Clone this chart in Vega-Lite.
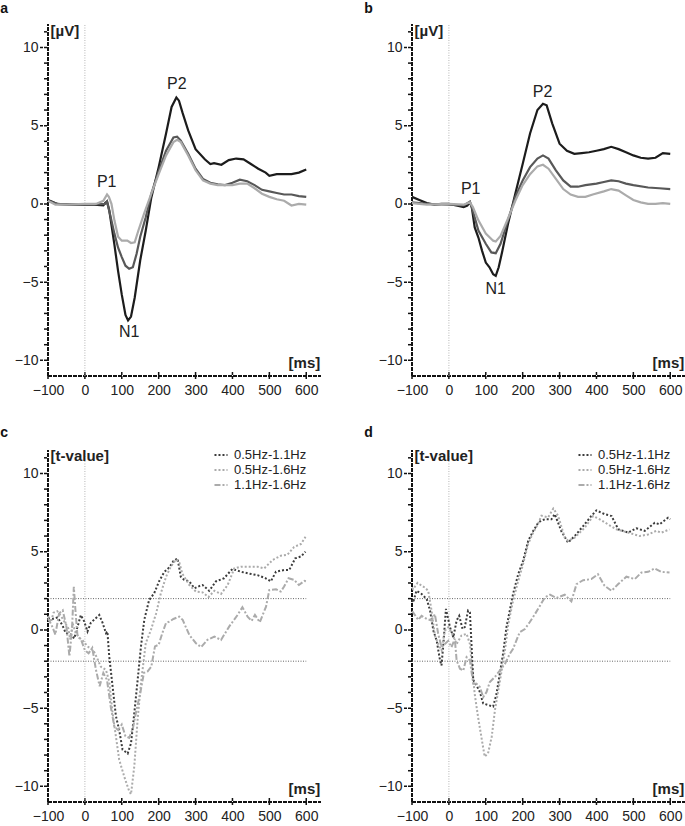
{
  "$schema": "https://vega.github.io/schema/vega-lite/v6.json",
  "padding": {"left": 0, "top": 2, "right": 0, "bottom": 0},
  "background": "white",
  "config": {
    "view": {"stroke": null},
    "font": "Liberation Sans",
    "axis": {"domain": false, "ticks": false, "tickSize": 0, "labelFont": "Liberation Sans", "labelFontSize": 14, "labelColor": "#222", "grid": false, "labelOverlap": false, "labelBound": false, "labelFlush": false},
    "title": {"fontSize": 14, "fontWeight": "bold", "anchor": "start", "frame": "bounds", "dx": -14, "offset": 7, "baseline": "alphabetic", "color": "#111", "font": "Liberation Sans"},
    "text": {"font": "Liberation Sans", "color": "#222"}
  },
  "columns": 2,
  "spacing": {"row": 29, "column": 42},
  "resolve": {"scale": {"color": "independent", "strokeDash": "independent"}, "legend": {"color": "independent", "strokeDash": "independent"}},
  "datasets": {
    "frame": [{"t": -100, "v": -11}],
    "yMajor": [{"t": -100, "v": -10}, {"t": -100, "v": -5}, {"t": -100, "v": 0}, {"t": -100, "v": 5}, {"t": -100, "v": 10}],
    "yMinor": [{"t": -100, "v": -9}, {"t": -100, "v": -8}, {"t": -100, "v": -7}, {"t": -100, "v": -6}, {"t": -100, "v": -4}, {"t": -100, "v": -3}, {"t": -100, "v": -2}, {"t": -100, "v": -1}, {"t": -100, "v": 1}, {"t": -100, "v": 2}, {"t": -100, "v": 3}, {"t": -100, "v": 4}, {"t": -100, "v": 6}, {"t": -100, "v": 7}, {"t": -100, "v": 8}, {"t": -100, "v": 9}, {"t": -100, "v": 11}],
    "xTicks": [{"t": -100, "v": -11}, {"t": 0, "v": -11}, {"t": 100, "v": -11}, {"t": 200, "v": -11}, {"t": 300, "v": -11}, {"t": 400, "v": -11}, {"t": 500, "v": -11}, {"t": 600, "v": -11}],
    "erpA": [
      {"t": -100, "v": 0.25, "s": "0.5Hz"}, {"t": -90, "v": 0.15, "s": "0.5Hz"}, {"t": -75, "v": 0.0, "s": "0.5Hz"}, {"t": -50, "v": -0.05, "s": "0.5Hz"}, {"t": -25, "v": -0.05, "s": "0.5Hz"}, {"t": 0, "v": -0.05, "s": "0.5Hz"}, {"t": 25, "v": -0.05, "s": "0.5Hz"}, {"t": 50, "v": -0.1, "s": "0.5Hz"}, {"t": 55, "v": 0.05, "s": "0.5Hz"}, {"t": 60, "v": 0.15, "s": "0.5Hz"}, {"t": 66, "v": -0.4, "s": "0.5Hz"}, {"t": 73, "v": -1.5, "s": "0.5Hz"}, {"t": 80, "v": -2.6, "s": "0.5Hz"}, {"t": 90, "v": -4.3, "s": "0.5Hz"}, {"t": 100, "v": -5.8, "s": "0.5Hz"}, {"t": 110, "v": -7.1, "s": "0.5Hz"}, {"t": 117, "v": -7.45, "s": "0.5Hz"}, {"t": 125, "v": -7.2, "s": "0.5Hz"}, {"t": 135, "v": -6.0, "s": "0.5Hz"}, {"t": 150, "v": -3.6, "s": "0.5Hz"}, {"t": 165, "v": -1.7, "s": "0.5Hz"}, {"t": 180, "v": 0.4, "s": "0.5Hz"}, {"t": 200, "v": 2.35, "s": "0.5Hz"}, {"t": 220, "v": 4.5, "s": "0.5Hz"}, {"t": 235, "v": 6.2, "s": "0.5Hz"}, {"t": 248, "v": 6.8, "s": "0.5Hz"}, {"t": 255, "v": 6.6, "s": "0.5Hz"}, {"t": 265, "v": 5.8, "s": "0.5Hz"}, {"t": 280, "v": 4.7, "s": "0.5Hz"}, {"t": 300, "v": 3.5, "s": "0.5Hz"}, {"t": 325, "v": 2.85, "s": "0.5Hz"}, {"t": 340, "v": 2.55, "s": "0.5Hz"}, {"t": 350, "v": 2.6, "s": "0.5Hz"}, {"t": 370, "v": 2.5, "s": "0.5Hz"}, {"t": 390, "v": 2.8, "s": "0.5Hz"}, {"t": 410, "v": 2.9, "s": "0.5Hz"}, {"t": 430, "v": 2.85, "s": "0.5Hz"}, {"t": 450, "v": 2.55, "s": "0.5Hz"}, {"t": 470, "v": 2.25, "s": "0.5Hz"}, {"t": 490, "v": 2.0, "s": "0.5Hz"}, {"t": 500, "v": 1.8, "s": "0.5Hz"}, {"t": 520, "v": 1.9, "s": "0.5Hz"}, {"t": 540, "v": 1.9, "s": "0.5Hz"}, {"t": 560, "v": 1.9, "s": "0.5Hz"}, {"t": 580, "v": 2.0, "s": "0.5Hz"}, {"t": 600, "v": 2.2, "s": "0.5Hz"},
      {"t": -100, "v": 0.2, "s": "1.1Hz"}, {"t": -75, "v": 0.0, "s": "1.1Hz"}, {"t": 0, "v": -0.05, "s": "1.1Hz"}, {"t": 55, "v": 0.0, "s": "1.1Hz"}, {"t": 60, "v": 0.15, "s": "1.1Hz"}, {"t": 70, "v": -0.85, "s": "1.1Hz"}, {"t": 80, "v": -1.9, "s": "1.1Hz"}, {"t": 90, "v": -2.8, "s": "1.1Hz"}, {"t": 100, "v": -3.4, "s": "1.1Hz"}, {"t": 110, "v": -3.95, "s": "1.1Hz"}, {"t": 120, "v": -4.15, "s": "1.1Hz"}, {"t": 130, "v": -4.05, "s": "1.1Hz"}, {"t": 140, "v": -3.2, "s": "1.1Hz"}, {"t": 150, "v": -2.1, "s": "1.1Hz"}, {"t": 165, "v": -0.85, "s": "1.1Hz"}, {"t": 180, "v": 0.65, "s": "1.1Hz"}, {"t": 200, "v": 2.1, "s": "1.1Hz"}, {"t": 220, "v": 3.4, "s": "1.1Hz"}, {"t": 240, "v": 4.25, "s": "1.1Hz"}, {"t": 250, "v": 4.3, "s": "1.1Hz"}, {"t": 260, "v": 4.05, "s": "1.1Hz"}, {"t": 280, "v": 3.2, "s": "1.1Hz"}, {"t": 300, "v": 2.25, "s": "1.1Hz"}, {"t": 320, "v": 1.6, "s": "1.1Hz"}, {"t": 340, "v": 1.35, "s": "1.1Hz"}, {"t": 360, "v": 1.25, "s": "1.1Hz"}, {"t": 380, "v": 1.2, "s": "1.1Hz"}, {"t": 400, "v": 1.35, "s": "1.1Hz"}, {"t": 420, "v": 1.55, "s": "1.1Hz"}, {"t": 440, "v": 1.45, "s": "1.1Hz"}, {"t": 460, "v": 1.2, "s": "1.1Hz"}, {"t": 480, "v": 0.9, "s": "1.1Hz"}, {"t": 500, "v": 0.8, "s": "1.1Hz"}, {"t": 520, "v": 0.7, "s": "1.1Hz"}, {"t": 540, "v": 0.6, "s": "1.1Hz"}, {"t": 560, "v": 0.6, "s": "1.1Hz"}, {"t": 580, "v": 0.5, "s": "1.1Hz"}, {"t": 600, "v": 0.45, "s": "1.1Hz"},
      {"t": -100, "v": 0.2, "s": "1.6Hz"}, {"t": -80, "v": -0.05, "s": "1.6Hz"}, {"t": -50, "v": -0.05, "s": "1.6Hz"}, {"t": 0, "v": 0.0, "s": "1.6Hz"}, {"t": 30, "v": 0.0, "s": "1.6Hz"}, {"t": 50, "v": 0.2, "s": "1.6Hz"}, {"t": 60, "v": 0.6, "s": "1.6Hz"}, {"t": 65, "v": 0.45, "s": "1.6Hz"}, {"t": 72, "v": 0.0, "s": "1.6Hz"}, {"t": 80, "v": -1.05, "s": "1.6Hz"}, {"t": 90, "v": -2.1, "s": "1.6Hz"}, {"t": 100, "v": -2.35, "s": "1.6Hz"}, {"t": 115, "v": -2.35, "s": "1.6Hz"}, {"t": 125, "v": -2.5, "s": "1.6Hz"}, {"t": 135, "v": -2.45, "s": "1.6Hz"}, {"t": 145, "v": -1.7, "s": "1.6Hz"}, {"t": 160, "v": -0.65, "s": "1.6Hz"}, {"t": 180, "v": 0.65, "s": "1.6Hz"}, {"t": 200, "v": 1.9, "s": "1.6Hz"}, {"t": 220, "v": 3.1, "s": "1.6Hz"}, {"t": 240, "v": 3.95, "s": "1.6Hz"}, {"t": 250, "v": 4.1, "s": "1.6Hz"}, {"t": 260, "v": 3.95, "s": "1.6Hz"}, {"t": 280, "v": 3.1, "s": "1.6Hz"}, {"t": 300, "v": 2.15, "s": "1.6Hz"}, {"t": 320, "v": 1.5, "s": "1.6Hz"}, {"t": 340, "v": 1.3, "s": "1.6Hz"}, {"t": 360, "v": 1.2, "s": "1.6Hz"}, {"t": 380, "v": 1.2, "s": "1.6Hz"}, {"t": 400, "v": 1.2, "s": "1.6Hz"}, {"t": 420, "v": 1.3, "s": "1.6Hz"}, {"t": 440, "v": 1.3, "s": "1.6Hz"}, {"t": 460, "v": 1.0, "s": "1.6Hz"}, {"t": 480, "v": 0.65, "s": "1.6Hz"}, {"t": 500, "v": 0.45, "s": "1.6Hz"}, {"t": 520, "v": 0.3, "s": "1.6Hz"}, {"t": 540, "v": 0.2, "s": "1.6Hz"}, {"t": 560, "v": -0.1, "s": "1.6Hz"}, {"t": 580, "v": 0.0, "s": "1.6Hz"}, {"t": 600, "v": -0.05, "s": "1.6Hz"}
    ],
    "erpB": [
      {"t": -100, "v": 0.45, "s": "0.5Hz"}, {"t": -80, "v": 0.25, "s": "0.5Hz"}, {"t": -60, "v": 0.05, "s": "0.5Hz"}, {"t": -40, "v": -0.05, "s": "0.5Hz"}, {"t": -20, "v": 0.0, "s": "0.5Hz"}, {"t": 0, "v": 0.0, "s": "0.5Hz"}, {"t": 20, "v": -0.1, "s": "0.5Hz"}, {"t": 40, "v": -0.2, "s": "0.5Hz"}, {"t": 50, "v": -0.1, "s": "0.5Hz"}, {"t": 57, "v": 0.1, "s": "0.5Hz"}, {"t": 62, "v": -0.2, "s": "0.5Hz"}, {"t": 70, "v": -1.5, "s": "0.5Hz"}, {"t": 80, "v": -2.15, "s": "0.5Hz"}, {"t": 90, "v": -3.0, "s": "0.5Hz"}, {"t": 100, "v": -3.75, "s": "0.5Hz"}, {"t": 110, "v": -4.05, "s": "0.5Hz"}, {"t": 120, "v": -4.5, "s": "0.5Hz"}, {"t": 127, "v": -4.6, "s": "0.5Hz"}, {"t": 135, "v": -4.05, "s": "0.5Hz"}, {"t": 145, "v": -3.0, "s": "0.5Hz"}, {"t": 160, "v": -1.3, "s": "0.5Hz"}, {"t": 180, "v": 0.65, "s": "0.5Hz"}, {"t": 200, "v": 2.55, "s": "0.5Hz"}, {"t": 220, "v": 4.5, "s": "0.5Hz"}, {"t": 240, "v": 6.0, "s": "0.5Hz"}, {"t": 255, "v": 6.4, "s": "0.5Hz"}, {"t": 265, "v": 6.3, "s": "0.5Hz"}, {"t": 280, "v": 5.15, "s": "0.5Hz"}, {"t": 300, "v": 3.85, "s": "0.5Hz"}, {"t": 320, "v": 3.4, "s": "0.5Hz"}, {"t": 340, "v": 3.2, "s": "0.5Hz"}, {"t": 360, "v": 3.25, "s": "0.5Hz"}, {"t": 380, "v": 3.3, "s": "0.5Hz"}, {"t": 400, "v": 3.4, "s": "0.5Hz"}, {"t": 420, "v": 3.5, "s": "0.5Hz"}, {"t": 440, "v": 3.65, "s": "0.5Hz"}, {"t": 460, "v": 3.5, "s": "0.5Hz"}, {"t": 480, "v": 3.3, "s": "0.5Hz"}, {"t": 500, "v": 3.1, "s": "0.5Hz"}, {"t": 520, "v": 2.95, "s": "0.5Hz"}, {"t": 540, "v": 2.9, "s": "0.5Hz"}, {"t": 560, "v": 2.95, "s": "0.5Hz"}, {"t": 580, "v": 3.25, "s": "0.5Hz"}, {"t": 600, "v": 3.2, "s": "0.5Hz"},
      {"t": -100, "v": 0.1, "s": "1.1Hz"}, {"t": -60, "v": 0.0, "s": "1.1Hz"}, {"t": 0, "v": -0.05, "s": "1.1Hz"}, {"t": 40, "v": -0.1, "s": "1.1Hz"}, {"t": 57, "v": 0.15, "s": "1.1Hz"}, {"t": 65, "v": -0.45, "s": "1.1Hz"}, {"t": 80, "v": -1.7, "s": "1.1Hz"}, {"t": 100, "v": -2.55, "s": "1.1Hz"}, {"t": 115, "v": -3.1, "s": "1.1Hz"}, {"t": 127, "v": -3.15, "s": "1.1Hz"}, {"t": 140, "v": -2.55, "s": "1.1Hz"}, {"t": 160, "v": -1.05, "s": "1.1Hz"}, {"t": 180, "v": 0.45, "s": "1.1Hz"}, {"t": 200, "v": 1.5, "s": "1.1Hz"}, {"t": 220, "v": 2.35, "s": "1.1Hz"}, {"t": 240, "v": 2.9, "s": "1.1Hz"}, {"t": 255, "v": 3.1, "s": "1.1Hz"}, {"t": 270, "v": 2.9, "s": "1.1Hz"}, {"t": 290, "v": 2.15, "s": "1.1Hz"}, {"t": 310, "v": 1.5, "s": "1.1Hz"}, {"t": 330, "v": 1.1, "s": "1.1Hz"}, {"t": 350, "v": 1.1, "s": "1.1Hz"}, {"t": 370, "v": 1.2, "s": "1.1Hz"}, {"t": 400, "v": 1.3, "s": "1.1Hz"}, {"t": 420, "v": 1.4, "s": "1.1Hz"}, {"t": 440, "v": 1.5, "s": "1.1Hz"}, {"t": 460, "v": 1.45, "s": "1.1Hz"}, {"t": 480, "v": 1.3, "s": "1.1Hz"}, {"t": 500, "v": 1.2, "s": "1.1Hz"}, {"t": 540, "v": 1.05, "s": "1.1Hz"}, {"t": 570, "v": 1.0, "s": "1.1Hz"}, {"t": 600, "v": 0.95, "s": "1.1Hz"},
      {"t": -100, "v": 0.05, "s": "1.6Hz"}, {"t": -60, "v": -0.05, "s": "1.6Hz"}, {"t": 0, "v": 0.0, "s": "1.6Hz"}, {"t": 40, "v": -0.05, "s": "1.6Hz"}, {"t": 57, "v": 0.1, "s": "1.6Hz"}, {"t": 65, "v": -0.2, "s": "1.6Hz"}, {"t": 80, "v": -1.05, "s": "1.6Hz"}, {"t": 100, "v": -1.9, "s": "1.6Hz"}, {"t": 120, "v": -2.35, "s": "1.6Hz"}, {"t": 127, "v": -2.4, "s": "1.6Hz"}, {"t": 140, "v": -2.05, "s": "1.6Hz"}, {"t": 160, "v": -0.95, "s": "1.6Hz"}, {"t": 180, "v": 0.2, "s": "1.6Hz"}, {"t": 200, "v": 1.2, "s": "1.6Hz"}, {"t": 220, "v": 1.9, "s": "1.6Hz"}, {"t": 240, "v": 2.4, "s": "1.6Hz"}, {"t": 255, "v": 2.5, "s": "1.6Hz"}, {"t": 270, "v": 2.25, "s": "1.6Hz"}, {"t": 290, "v": 1.6, "s": "1.6Hz"}, {"t": 310, "v": 0.95, "s": "1.6Hz"}, {"t": 330, "v": 0.6, "s": "1.6Hz"}, {"t": 350, "v": 0.45, "s": "1.6Hz"}, {"t": 370, "v": 0.45, "s": "1.6Hz"}, {"t": 390, "v": 0.6, "s": "1.6Hz"}, {"t": 420, "v": 0.8, "s": "1.6Hz"}, {"t": 440, "v": 0.95, "s": "1.6Hz"}, {"t": 460, "v": 0.85, "s": "1.6Hz"}, {"t": 480, "v": 0.55, "s": "1.6Hz"}, {"t": 500, "v": 0.25, "s": "1.6Hz"}, {"t": 520, "v": 0.1, "s": "1.6Hz"}, {"t": 540, "v": 0.0, "s": "1.6Hz"}, {"t": 560, "v": 0.0, "s": "1.6Hz"}, {"t": 580, "v": 0.05, "s": "1.6Hz"}, {"t": 600, "v": 0.0, "s": "1.6Hz"}
    ],
    "tC": [
      {"t": -100, "v": 0.75, "s": "0.5Hz-1.1Hz"}, {"t": -88, "v": 0.7, "s": "0.5Hz-1.1Hz"}, {"t": -74, "v": 0.8, "s": "0.5Hz-1.1Hz"}, {"t": -61, "v": 0.3, "s": "0.5Hz-1.1Hz"}, {"t": -52, "v": -0.2, "s": "0.5Hz-1.1Hz"}, {"t": -38, "v": -0.3, "s": "0.5Hz-1.1Hz"}, {"t": -29, "v": -0.55, "s": "0.5Hz-1.1Hz"}, {"t": -20, "v": 0.2, "s": "0.5Hz-1.1Hz"}, {"t": -11, "v": 0.95, "s": "0.5Hz-1.1Hz"}, {"t": -2, "v": 0.55, "s": "0.5Hz-1.1Hz"}, {"t": 7, "v": -0.1, "s": "0.5Hz-1.1Hz"}, {"t": 16, "v": 0.45, "s": "0.5Hz-1.1Hz"}, {"t": 25, "v": 0.65, "s": "0.5Hz-1.1Hz"}, {"t": 39, "v": 0.95, "s": "0.5Hz-1.1Hz"}, {"t": 48, "v": 0.45, "s": "0.5Hz-1.1Hz"}, {"t": 57, "v": -0.2, "s": "0.5Hz-1.1Hz"}, {"t": 61, "v": -0.1, "s": "0.5Hz-1.1Hz"}, {"t": 66, "v": -1.7, "s": "0.5Hz-1.1Hz"}, {"t": 75, "v": -3.6, "s": "0.5Hz-1.1Hz"}, {"t": 84, "v": -5.5, "s": "0.5Hz-1.1Hz"}, {"t": 93, "v": -6.4, "s": "0.5Hz-1.1Hz"}, {"t": 102, "v": -7.65, "s": "0.5Hz-1.1Hz"}, {"t": 116, "v": -7.9, "s": "0.5Hz-1.1Hz"}, {"t": 125, "v": -7.25, "s": "0.5Hz-1.1Hz"}, {"t": 134, "v": -5.3, "s": "0.5Hz-1.1Hz"}, {"t": 143, "v": -3.2, "s": "0.5Hz-1.1Hz"}, {"t": 152, "v": -1.05, "s": "0.5Hz-1.1Hz"}, {"t": 161, "v": 0.65, "s": "0.5Hz-1.1Hz"}, {"t": 174, "v": 1.9, "s": "0.5Hz-1.1Hz"}, {"t": 188, "v": 2.35, "s": "0.5Hz-1.1Hz"}, {"t": 201, "v": 3.1, "s": "0.5Hz-1.1Hz"}, {"t": 215, "v": 3.7, "s": "0.5Hz-1.1Hz"}, {"t": 229, "v": 4.0, "s": "0.5Hz-1.1Hz"}, {"t": 240, "v": 4.4, "s": "0.5Hz-1.1Hz"}, {"t": 251, "v": 4.57, "s": "0.5Hz-1.1Hz"}, {"t": 260, "v": 3.4, "s": "0.5Hz-1.1Hz"}, {"t": 269, "v": 3.2, "s": "0.5Hz-1.1Hz"}, {"t": 283, "v": 3.1, "s": "0.5Hz-1.1Hz"}, {"t": 297, "v": 2.66, "s": "0.5Hz-1.1Hz"}, {"t": 310, "v": 2.8, "s": "0.5Hz-1.1Hz"}, {"t": 319, "v": 2.87, "s": "0.5Hz-1.1Hz"}, {"t": 337, "v": 2.5, "s": "0.5Hz-1.1Hz"}, {"t": 355, "v": 3.1, "s": "0.5Hz-1.1Hz"}, {"t": 377, "v": 3.3, "s": "0.5Hz-1.1Hz"}, {"t": 400, "v": 3.9, "s": "0.5Hz-1.1Hz"}, {"t": 423, "v": 3.72, "s": "0.5Hz-1.1Hz"}, {"t": 445, "v": 3.6, "s": "0.5Hz-1.1Hz"}, {"t": 468, "v": 3.5, "s": "0.5Hz-1.1Hz"}, {"t": 490, "v": 3.3, "s": "0.5Hz-1.1Hz"}, {"t": 504, "v": 3.1, "s": "0.5Hz-1.1Hz"}, {"t": 518, "v": 3.72, "s": "0.5Hz-1.1Hz"}, {"t": 540, "v": 3.83, "s": "0.5Hz-1.1Hz"}, {"t": 554, "v": 3.83, "s": "0.5Hz-1.1Hz"}, {"t": 570, "v": 4.57, "s": "0.5Hz-1.1Hz"}, {"t": 586, "v": 4.7, "s": "0.5Hz-1.1Hz"}, {"t": 598, "v": 5.0, "s": "0.5Hz-1.1Hz"},
      {"t": -100, "v": 0.9, "s": "0.5Hz-1.6Hz"}, {"t": -92, "v": 0.5, "s": "0.5Hz-1.6Hz"}, {"t": -85, "v": 1.1, "s": "0.5Hz-1.6Hz"}, {"t": -75, "v": 1.2, "s": "0.5Hz-1.6Hz"}, {"t": -65, "v": 0.9, "s": "0.5Hz-1.6Hz"}, {"t": -55, "v": 0.5, "s": "0.5Hz-1.6Hz"}, {"t": -45, "v": 0.1, "s": "0.5Hz-1.6Hz"}, {"t": -40, "v": -0.6, "s": "0.5Hz-1.6Hz"}, {"t": -33, "v": 0.4, "s": "0.5Hz-1.6Hz"}, {"t": -25, "v": -0.2, "s": "0.5Hz-1.6Hz"}, {"t": -15, "v": -0.5, "s": "0.5Hz-1.6Hz"}, {"t": -5, "v": -0.7, "s": "0.5Hz-1.6Hz"}, {"t": 7, "v": -1.05, "s": "0.5Hz-1.6Hz"}, {"t": 16, "v": -1.2, "s": "0.5Hz-1.6Hz"}, {"t": 25, "v": -1.4, "s": "0.5Hz-1.6Hz"}, {"t": 35, "v": -1.9, "s": "0.5Hz-1.6Hz"}, {"t": 43, "v": -2.35, "s": "0.5Hz-1.6Hz"}, {"t": 57, "v": -2.55, "s": "0.5Hz-1.6Hz"}, {"t": 66, "v": -3.3, "s": "0.5Hz-1.6Hz"}, {"t": 75, "v": -5.3, "s": "0.5Hz-1.6Hz"}, {"t": 84, "v": -6.8, "s": "0.5Hz-1.6Hz"}, {"t": 93, "v": -8.3, "s": "0.5Hz-1.6Hz"}, {"t": 107, "v": -9.4, "s": "0.5Hz-1.6Hz"}, {"t": 120, "v": -10.3, "s": "0.5Hz-1.6Hz"}, {"t": 125, "v": -10.5, "s": "0.5Hz-1.6Hz"}, {"t": 134, "v": -8.7, "s": "0.5Hz-1.6Hz"}, {"t": 143, "v": -5.7, "s": "0.5Hz-1.6Hz"}, {"t": 152, "v": -3.4, "s": "0.5Hz-1.6Hz"}, {"t": 165, "v": -0.85, "s": "0.5Hz-1.6Hz"}, {"t": 179, "v": 0.0, "s": "0.5Hz-1.6Hz"}, {"t": 193, "v": 1.05, "s": "0.5Hz-1.6Hz"}, {"t": 206, "v": 2.35, "s": "0.5Hz-1.6Hz"}, {"t": 220, "v": 3.4, "s": "0.5Hz-1.6Hz"}, {"t": 233, "v": 4.05, "s": "0.5Hz-1.6Hz"}, {"t": 247, "v": 4.5, "s": "0.5Hz-1.6Hz"}, {"t": 256, "v": 4.3, "s": "0.5Hz-1.6Hz"}, {"t": 264, "v": 3.6, "s": "0.5Hz-1.6Hz"}, {"t": 283, "v": 2.87, "s": "0.5Hz-1.6Hz"}, {"t": 301, "v": 2.45, "s": "0.5Hz-1.6Hz"}, {"t": 319, "v": 2.4, "s": "0.5Hz-1.6Hz"}, {"t": 335, "v": 2.1, "s": "0.5Hz-1.6Hz"}, {"t": 351, "v": 2.5, "s": "0.5Hz-1.6Hz"}, {"t": 369, "v": 2.3, "s": "0.5Hz-1.6Hz"}, {"t": 387, "v": 2.87, "s": "0.5Hz-1.6Hz"}, {"t": 405, "v": 3.93, "s": "0.5Hz-1.6Hz"}, {"t": 423, "v": 4.04, "s": "0.5Hz-1.6Hz"}, {"t": 445, "v": 4.04, "s": "0.5Hz-1.6Hz"}, {"t": 468, "v": 4.04, "s": "0.5Hz-1.6Hz"}, {"t": 486, "v": 3.93, "s": "0.5Hz-1.6Hz"}, {"t": 509, "v": 4.47, "s": "0.5Hz-1.6Hz"}, {"t": 531, "v": 4.74, "s": "0.5Hz-1.6Hz"}, {"t": 549, "v": 4.8, "s": "0.5Hz-1.6Hz"}, {"t": 567, "v": 5.3, "s": "0.5Hz-1.6Hz"}, {"t": 586, "v": 5.5, "s": "0.5Hz-1.6Hz"}, {"t": 598, "v": 5.95, "s": "0.5Hz-1.6Hz"},
      {"t": -100, "v": 0.75, "s": "1.1Hz-1.6Hz"}, {"t": -90, "v": 0.3, "s": "1.1Hz-1.6Hz"}, {"t": -80, "v": -0.3, "s": "1.1Hz-1.6Hz"}, {"t": -70, "v": 1.05, "s": "1.1Hz-1.6Hz"}, {"t": -60, "v": 1.25, "s": "1.1Hz-1.6Hz"}, {"t": -50, "v": 0.2, "s": "1.1Hz-1.6Hz"}, {"t": -42, "v": -1.7, "s": "1.1Hz-1.6Hz"}, {"t": -35, "v": 0.0, "s": "1.1Hz-1.6Hz"}, {"t": -30, "v": 2.75, "s": "1.1Hz-1.6Hz"}, {"t": -25, "v": 1.05, "s": "1.1Hz-1.6Hz"}, {"t": -20, "v": -0.4, "s": "1.1Hz-1.6Hz"}, {"t": -10, "v": -0.65, "s": "1.1Hz-1.6Hz"}, {"t": 0, "v": -1.3, "s": "1.1Hz-1.6Hz"}, {"t": 10, "v": -1.5, "s": "1.1Hz-1.6Hz"}, {"t": 20, "v": -1.15, "s": "1.1Hz-1.6Hz"}, {"t": 30, "v": -2.55, "s": "1.1Hz-1.6Hz"}, {"t": 40, "v": -3.6, "s": "1.1Hz-1.6Hz"}, {"t": 50, "v": -2.75, "s": "1.1Hz-1.6Hz"}, {"t": 60, "v": -3.2, "s": "1.1Hz-1.6Hz"}, {"t": 70, "v": -4.9, "s": "1.1Hz-1.6Hz"}, {"t": 80, "v": -6.2, "s": "1.1Hz-1.6Hz"}, {"t": 90, "v": -6.4, "s": "1.1Hz-1.6Hz"}, {"t": 100, "v": -6.05, "s": "1.1Hz-1.6Hz"}, {"t": 110, "v": -6.8, "s": "1.1Hz-1.6Hz"}, {"t": 120, "v": -6.9, "s": "1.1Hz-1.6Hz"}, {"t": 130, "v": -6.3, "s": "1.1Hz-1.6Hz"}, {"t": 140, "v": -5.1, "s": "1.1Hz-1.6Hz"}, {"t": 150, "v": -4.05, "s": "1.1Hz-1.6Hz"}, {"t": 160, "v": -2.75, "s": "1.1Hz-1.6Hz"}, {"t": 170, "v": -2.65, "s": "1.1Hz-1.6Hz"}, {"t": 180, "v": -2.35, "s": "1.1Hz-1.6Hz"}, {"t": 190, "v": -1.05, "s": "1.1Hz-1.6Hz"}, {"t": 200, "v": -0.95, "s": "1.1Hz-1.6Hz"}, {"t": 210, "v": -0.2, "s": "1.1Hz-1.6Hz"}, {"t": 220, "v": 0.45, "s": "1.1Hz-1.6Hz"}, {"t": 229, "v": 0.53, "s": "1.1Hz-1.6Hz"}, {"t": 240, "v": 0.7, "s": "1.1Hz-1.6Hz"}, {"t": 256, "v": 0.85, "s": "1.1Hz-1.6Hz"}, {"t": 265, "v": 0.64, "s": "1.1Hz-1.6Hz"}, {"t": 283, "v": -0.32, "s": "1.1Hz-1.6Hz"}, {"t": 301, "v": -0.85, "s": "1.1Hz-1.6Hz"}, {"t": 315, "v": -1.1, "s": "1.1Hz-1.6Hz"}, {"t": 332, "v": -0.64, "s": "1.1Hz-1.6Hz"}, {"t": 351, "v": -0.43, "s": "1.1Hz-1.6Hz"}, {"t": 369, "v": -0.64, "s": "1.1Hz-1.6Hz"}, {"t": 391, "v": 0.21, "s": "1.1Hz-1.6Hz"}, {"t": 414, "v": 0.96, "s": "1.1Hz-1.6Hz"}, {"t": 427, "v": 1.45, "s": "1.1Hz-1.6Hz"}, {"t": 441, "v": 0.85, "s": "1.1Hz-1.6Hz"}, {"t": 452, "v": 0.57, "s": "1.1Hz-1.6Hz"}, {"t": 461, "v": 0.96, "s": "1.1Hz-1.6Hz"}, {"t": 474, "v": 0.49, "s": "1.1Hz-1.6Hz"}, {"t": 491, "v": 1.49, "s": "1.1Hz-1.6Hz"}, {"t": 500, "v": 2.55, "s": "1.1Hz-1.6Hz"}, {"t": 518, "v": 2.6, "s": "1.1Hz-1.6Hz"}, {"t": 531, "v": 2.45, "s": "1.1Hz-1.6Hz"}, {"t": 540, "v": 2.77, "s": "1.1Hz-1.6Hz"}, {"t": 552, "v": 3.3, "s": "1.1Hz-1.6Hz"}, {"t": 567, "v": 3.2, "s": "1.1Hz-1.6Hz"}, {"t": 580, "v": 2.87, "s": "1.1Hz-1.6Hz"}, {"t": 595, "v": 3.13, "s": "1.1Hz-1.6Hz"}, {"t": 600, "v": 3.1, "s": "1.1Hz-1.6Hz"}
    ],
    "tD": [
      {"t": -100, "v": 1.9, "s": "0.5Hz-1.1Hz"}, {"t": -97, "v": 1.75, "s": "0.5Hz-1.1Hz"}, {"t": -88, "v": 2.5, "s": "0.5Hz-1.1Hz"}, {"t": -74, "v": 2.3, "s": "0.5Hz-1.1Hz"}, {"t": -60, "v": 1.97, "s": "0.5Hz-1.1Hz"}, {"t": -51, "v": 1.23, "s": "0.5Hz-1.1Hz"}, {"t": -42, "v": -0.05, "s": "0.5Hz-1.1Hz"}, {"t": -33, "v": -0.7, "s": "0.5Hz-1.1Hz"}, {"t": -24, "v": -1.95, "s": "0.5Hz-1.1Hz"}, {"t": -20, "v": -2.27, "s": "0.5Hz-1.1Hz"}, {"t": -15, "v": -0.9, "s": "0.5Hz-1.1Hz"}, {"t": -8, "v": 1.34, "s": "0.5Hz-1.1Hz"}, {"t": 3, "v": 0.17, "s": "0.5Hz-1.1Hz"}, {"t": 12, "v": -0.47, "s": "0.5Hz-1.1Hz"}, {"t": 21, "v": 0.6, "s": "0.5Hz-1.1Hz"}, {"t": 28, "v": 0.9, "s": "0.5Hz-1.1Hz"}, {"t": 37, "v": 0.06, "s": "0.5Hz-1.1Hz"}, {"t": 43, "v": 0.17, "s": "0.5Hz-1.1Hz"}, {"t": 52, "v": 1.23, "s": "0.5Hz-1.1Hz"}, {"t": 57, "v": 1.12, "s": "0.5Hz-1.1Hz"}, {"t": 66, "v": -3.2, "s": "0.5Hz-1.1Hz"}, {"t": 75, "v": -3.55, "s": "0.5Hz-1.1Hz"}, {"t": 84, "v": -3.97, "s": "0.5Hz-1.1Hz"}, {"t": 93, "v": -4.7, "s": "0.5Hz-1.1Hz"}, {"t": 106, "v": -4.8, "s": "0.5Hz-1.1Hz"}, {"t": 120, "v": -4.9, "s": "0.5Hz-1.1Hz"}, {"t": 129, "v": -4.1, "s": "0.5Hz-1.1Hz"}, {"t": 138, "v": -2.8, "s": "0.5Hz-1.1Hz"}, {"t": 147, "v": -1.5, "s": "0.5Hz-1.1Hz"}, {"t": 156, "v": 0.17, "s": "0.5Hz-1.1Hz"}, {"t": 165, "v": 1.23, "s": "0.5Hz-1.1Hz"}, {"t": 174, "v": 2.3, "s": "0.5Hz-1.1Hz"}, {"t": 188, "v": 3.57, "s": "0.5Hz-1.1Hz"}, {"t": 201, "v": 4.4, "s": "0.5Hz-1.1Hz"}, {"t": 215, "v": 5.7, "s": "0.5Hz-1.1Hz"}, {"t": 228, "v": 6.3, "s": "0.5Hz-1.1Hz"}, {"t": 242, "v": 6.85, "s": "0.5Hz-1.1Hz"}, {"t": 251, "v": 7.0, "s": "0.5Hz-1.1Hz"}, {"t": 260, "v": 7.07, "s": "0.5Hz-1.1Hz"}, {"t": 278, "v": 7.07, "s": "0.5Hz-1.1Hz"}, {"t": 287, "v": 7.4, "s": "0.5Hz-1.1Hz"}, {"t": 305, "v": 6.3, "s": "0.5Hz-1.1Hz"}, {"t": 323, "v": 5.58, "s": "0.5Hz-1.1Hz"}, {"t": 341, "v": 6.0, "s": "0.5Hz-1.1Hz"}, {"t": 364, "v": 6.64, "s": "0.5Hz-1.1Hz"}, {"t": 386, "v": 7.28, "s": "0.5Hz-1.1Hz"}, {"t": 400, "v": 7.64, "s": "0.5Hz-1.1Hz"}, {"t": 422, "v": 7.4, "s": "0.5Hz-1.1Hz"}, {"t": 441, "v": 7.28, "s": "0.5Hz-1.1Hz"}, {"t": 459, "v": 6.43, "s": "0.5Hz-1.1Hz"}, {"t": 486, "v": 6.22, "s": "0.5Hz-1.1Hz"}, {"t": 508, "v": 6.5, "s": "0.5Hz-1.1Hz"}, {"t": 531, "v": 6.33, "s": "0.5Hz-1.1Hz"}, {"t": 558, "v": 6.85, "s": "0.5Hz-1.1Hz"}, {"t": 571, "v": 6.75, "s": "0.5Hz-1.1Hz"}, {"t": 594, "v": 7.17, "s": "0.5Hz-1.1Hz"}, {"t": 600, "v": 7.07, "s": "0.5Hz-1.1Hz"},
      {"t": -100, "v": 2.7, "s": "0.5Hz-1.6Hz"}, {"t": -97, "v": 2.6, "s": "0.5Hz-1.6Hz"}, {"t": -85, "v": 3.0, "s": "0.5Hz-1.6Hz"}, {"t": -65, "v": 2.7, "s": "0.5Hz-1.6Hz"}, {"t": -56, "v": 2.5, "s": "0.5Hz-1.6Hz"}, {"t": -47, "v": 1.23, "s": "0.5Hz-1.6Hz"}, {"t": -38, "v": -0.36, "s": "0.5Hz-1.6Hz"}, {"t": -29, "v": -0.9, "s": "0.5Hz-1.6Hz"}, {"t": -20, "v": -1.3, "s": "0.5Hz-1.6Hz"}, {"t": -11, "v": -0.05, "s": "0.5Hz-1.6Hz"}, {"t": -2, "v": 0.17, "s": "0.5Hz-1.6Hz"}, {"t": 7, "v": -0.15, "s": "0.5Hz-1.6Hz"}, {"t": 21, "v": -0.9, "s": "0.5Hz-1.6Hz"}, {"t": 34, "v": -0.36, "s": "0.5Hz-1.6Hz"}, {"t": 48, "v": -0.25, "s": "0.5Hz-1.6Hz"}, {"t": 57, "v": -0.9, "s": "0.5Hz-1.6Hz"}, {"t": 61, "v": -1.95, "s": "0.5Hz-1.6Hz"}, {"t": 70, "v": -4.1, "s": "0.5Hz-1.6Hz"}, {"t": 79, "v": -5.56, "s": "0.5Hz-1.6Hz"}, {"t": 88, "v": -6.84, "s": "0.5Hz-1.6Hz"}, {"t": 97, "v": -8.1, "s": "0.5Hz-1.6Hz"}, {"t": 106, "v": -7.9, "s": "0.5Hz-1.6Hz"}, {"t": 116, "v": -6.84, "s": "0.5Hz-1.6Hz"}, {"t": 125, "v": -5.1, "s": "0.5Hz-1.6Hz"}, {"t": 134, "v": -3.86, "s": "0.5Hz-1.6Hz"}, {"t": 143, "v": -2.6, "s": "0.5Hz-1.6Hz"}, {"t": 152, "v": -1.3, "s": "0.5Hz-1.6Hz"}, {"t": 161, "v": 0.38, "s": "0.5Hz-1.6Hz"}, {"t": 174, "v": 1.87, "s": "0.5Hz-1.6Hz"}, {"t": 188, "v": 3.14, "s": "0.5Hz-1.6Hz"}, {"t": 201, "v": 4.2, "s": "0.5Hz-1.6Hz"}, {"t": 215, "v": 5.5, "s": "0.5Hz-1.6Hz"}, {"t": 228, "v": 6.2, "s": "0.5Hz-1.6Hz"}, {"t": 242, "v": 6.8, "s": "0.5Hz-1.6Hz"}, {"t": 251, "v": 7.3, "s": "0.5Hz-1.6Hz"}, {"t": 269, "v": 7.2, "s": "0.5Hz-1.6Hz"}, {"t": 283, "v": 7.76, "s": "0.5Hz-1.6Hz"}, {"t": 296, "v": 7.3, "s": "0.5Hz-1.6Hz"}, {"t": 314, "v": 5.9, "s": "0.5Hz-1.6Hz"}, {"t": 323, "v": 5.7, "s": "0.5Hz-1.6Hz"}, {"t": 341, "v": 5.9, "s": "0.5Hz-1.6Hz"}, {"t": 368, "v": 6.53, "s": "0.5Hz-1.6Hz"}, {"t": 391, "v": 7.28, "s": "0.5Hz-1.6Hz"}, {"t": 409, "v": 7.07, "s": "0.5Hz-1.6Hz"}, {"t": 431, "v": 6.75, "s": "0.5Hz-1.6Hz"}, {"t": 454, "v": 6.43, "s": "0.5Hz-1.6Hz"}, {"t": 486, "v": 6.22, "s": "0.5Hz-1.6Hz"}, {"t": 517, "v": 6.0, "s": "0.5Hz-1.6Hz"}, {"t": 540, "v": 6.1, "s": "0.5Hz-1.6Hz"}, {"t": 562, "v": 6.33, "s": "0.5Hz-1.6Hz"}, {"t": 576, "v": 6.22, "s": "0.5Hz-1.6Hz"}, {"t": 598, "v": 6.43, "s": "0.5Hz-1.6Hz"},
      {"t": -100, "v": 1.2, "s": "1.1Hz-1.6Hz"}, {"t": -97, "v": 1.12, "s": "1.1Hz-1.6Hz"}, {"t": -83, "v": 0.64, "s": "1.1Hz-1.6Hz"}, {"t": -74, "v": 0.9, "s": "1.1Hz-1.6Hz"}, {"t": -60, "v": 0.7, "s": "1.1Hz-1.6Hz"}, {"t": -47, "v": 0.6, "s": "1.1Hz-1.6Hz"}, {"t": -38, "v": 1.0, "s": "1.1Hz-1.6Hz"}, {"t": -29, "v": -0.25, "s": "1.1Hz-1.6Hz"}, {"t": -20, "v": -1.1, "s": "1.1Hz-1.6Hz"}, {"t": -11, "v": -0.9, "s": "1.1Hz-1.6Hz"}, {"t": -2, "v": -0.7, "s": "1.1Hz-1.6Hz"}, {"t": 7, "v": -1.1, "s": "1.1Hz-1.6Hz"}, {"t": 16, "v": -0.57, "s": "1.1Hz-1.6Hz"}, {"t": 21, "v": -1.95, "s": "1.1Hz-1.6Hz"}, {"t": 30, "v": -2.48, "s": "1.1Hz-1.6Hz"}, {"t": 39, "v": -2.6, "s": "1.1Hz-1.6Hz"}, {"t": 48, "v": -1.74, "s": "1.1Hz-1.6Hz"}, {"t": 57, "v": -1.95, "s": "1.1Hz-1.6Hz"}, {"t": 66, "v": -3.44, "s": "1.1Hz-1.6Hz"}, {"t": 75, "v": -3.44, "s": "1.1Hz-1.6Hz"}, {"t": 84, "v": -3.65, "s": "1.1Hz-1.6Hz"}, {"t": 93, "v": -4.3, "s": "1.1Hz-1.6Hz"}, {"t": 102, "v": -3.97, "s": "1.1Hz-1.6Hz"}, {"t": 111, "v": -3.33, "s": "1.1Hz-1.6Hz"}, {"t": 125, "v": -3.0, "s": "1.1Hz-1.6Hz"}, {"t": 138, "v": -2.6, "s": "1.1Hz-1.6Hz"}, {"t": 152, "v": -2.17, "s": "1.1Hz-1.6Hz"}, {"t": 165, "v": -1.53, "s": "1.1Hz-1.6Hz"}, {"t": 174, "v": -1.2, "s": "1.1Hz-1.6Hz"}, {"t": 192, "v": -0.15, "s": "1.1Hz-1.6Hz"}, {"t": 206, "v": 0.06, "s": "1.1Hz-1.6Hz"}, {"t": 219, "v": 0.49, "s": "1.1Hz-1.6Hz"}, {"t": 233, "v": 1.0, "s": "1.1Hz-1.6Hz"}, {"t": 247, "v": 1.55, "s": "1.1Hz-1.6Hz"}, {"t": 260, "v": 2.08, "s": "1.1Hz-1.6Hz"}, {"t": 274, "v": 2.25, "s": "1.1Hz-1.6Hz"}, {"t": 292, "v": 2.04, "s": "1.1Hz-1.6Hz"}, {"t": 314, "v": 2.25, "s": "1.1Hz-1.6Hz"}, {"t": 332, "v": 1.82, "s": "1.1Hz-1.6Hz"}, {"t": 346, "v": 2.93, "s": "1.1Hz-1.6Hz"}, {"t": 364, "v": 3.18, "s": "1.1Hz-1.6Hz"}, {"t": 386, "v": 3.25, "s": "1.1Hz-1.6Hz"}, {"t": 404, "v": 3.56, "s": "1.1Hz-1.6Hz"}, {"t": 422, "v": 2.82, "s": "1.1Hz-1.6Hz"}, {"t": 441, "v": 2.5, "s": "1.1Hz-1.6Hz"}, {"t": 459, "v": 2.93, "s": "1.1Hz-1.6Hz"}, {"t": 481, "v": 3.4, "s": "1.1Hz-1.6Hz"}, {"t": 504, "v": 3.25, "s": "1.1Hz-1.6Hz"}, {"t": 522, "v": 3.67, "s": "1.1Hz-1.6Hz"}, {"t": 540, "v": 3.71, "s": "1.1Hz-1.6Hz"}, {"t": 558, "v": 3.93, "s": "1.1Hz-1.6Hz"}, {"t": 576, "v": 3.71, "s": "1.1Hz-1.6Hz"}, {"t": 598, "v": 3.67, "s": "1.1Hz-1.6Hz"}
    ]
  },
  "concat": [
    {
      "width": 273, "height": 352,
      "title": {"text": "a"},
      "encoding": {
        "x": {"field": "t", "type": "quantitative", "scale": {"domain": [-100, 640], "nice": false, "zero": false}, "axis": {"title": null, "values": [-100, 0, 100, 200, 300, 400, 500, 600], "labelPadding": 7}},
        "y": {"field": "v", "type": "quantitative", "scale": {"domain": [-11, 11.5], "nice": false, "zero": false}, "axis": {"title": null, "values": [-10, -5, 0, 5, 10], "labelPadding": 10}}
      },
      "layer": [
        {"data": {"name": "frame"}, "mark": {"type": "rule", "color": "#111", "strokeWidth": 2, "strokeDash": [4, 1]}, "encoding": {"y2": {"datum": 11.5}}},
        {"data": {"name": "frame"}, "mark": {"type": "rule", "color": "#111", "strokeWidth": 2, "strokeDash": [4, 1]}, "encoding": {"x2": {"datum": 640}}},
        {"data": {"name": "yMajor"}, "mark": {"type": "point", "shape": "M-2,0H0", "size": 64, "strokeWidth": 1.5, "strokeDash": [3, 1], "color": "#111", "opacity": 1}},
        {"data": {"name": "yMinor"}, "mark": {"type": "point", "shape": "M-1,0H0", "size": 64, "strokeWidth": 1.5, "strokeDash": [3, 1], "color": "#111", "opacity": 1}},
        {"data": {"name": "xTicks"}, "mark": {"type": "point", "shape": "M0,-1V1", "size": 64, "strokeWidth": 1.5, "strokeDash": [3, 1], "color": "#111", "opacity": 1}},
        {"data": {"values": [{"t": 0, "v": -11}]}, "mark": {"type": "rule", "color": "#b5b5b5", "strokeWidth": 1, "strokeDash": [1, 1.5]}, "encoding": {"y2": {"datum": 11.5}}},
        {"data": {"name": "erpA"}, "mark": {"type": "line", "strokeWidth": 2.2},
          "encoding": {"color": {"field": "s", "type": "nominal", "scale": {"domain": ["1.6Hz", "1.1Hz", "0.5Hz"], "range": ["#ababab", "#585858", "#1c1c1c"]}, "legend": null}}},
        {"data": {"values": [{"t": 59, "v": 1.4, "label": "P1"}, {"t": 249, "v": 7.65, "label": "P2"}, {"t": 120, "v": -8.2, "label": "N1"}]}, "mark": {"type": "text", "fontSize": 16, "align": "center", "baseline": "middle"}, "encoding": {"text": {"field": "label"}}},
        {"data": {"values": [{"t": -93, "v": 11.05, "label": "[µV]"}]}, "mark": {"type": "text", "fontSize": 15, "fontWeight": "bold", "align": "left", "baseline": "middle"}, "encoding": {"text": {"field": "label"}}},
        {"data": {"values": [{"t": 638, "v": -10.2, "label": "[ms]"}]}, "mark": {"type": "text", "fontSize": 15, "fontWeight": "bold", "align": "right", "baseline": "middle"}, "encoding": {"text": {"field": "label"}}}
      ]
    },
    {
      "width": 273, "height": 352,
      "title": {"text": "b"},
      "encoding": {
        "x": {"field": "t", "type": "quantitative", "scale": {"domain": [-100, 640], "nice": false, "zero": false}, "axis": {"title": null, "values": [-100, 0, 100, 200, 300, 400, 500, 600], "labelPadding": 7}},
        "y": {"field": "v", "type": "quantitative", "scale": {"domain": [-11, 11.5], "nice": false, "zero": false}, "axis": {"title": null, "values": [-10, -5, 0, 5, 10], "labelPadding": 10}}
      },
      "layer": [
        {"data": {"name": "frame"}, "mark": {"type": "rule", "color": "#111", "strokeWidth": 2, "strokeDash": [4, 1]}, "encoding": {"y2": {"datum": 11.5}}},
        {"data": {"name": "frame"}, "mark": {"type": "rule", "color": "#111", "strokeWidth": 2, "strokeDash": [4, 1]}, "encoding": {"x2": {"datum": 640}}},
        {"data": {"name": "yMajor"}, "mark": {"type": "point", "shape": "M-2,0H0", "size": 64, "strokeWidth": 1.5, "strokeDash": [3, 1], "color": "#111", "opacity": 1}},
        {"data": {"name": "yMinor"}, "mark": {"type": "point", "shape": "M-1,0H0", "size": 64, "strokeWidth": 1.5, "strokeDash": [3, 1], "color": "#111", "opacity": 1}},
        {"data": {"name": "xTicks"}, "mark": {"type": "point", "shape": "M0,-1V1", "size": 64, "strokeWidth": 1.5, "strokeDash": [3, 1], "color": "#111", "opacity": 1}},
        {"data": {"values": [{"t": 0, "v": -11}]}, "mark": {"type": "rule", "color": "#b5b5b5", "strokeWidth": 1, "strokeDash": [1, 1.5]}, "encoding": {"y2": {"datum": 11.5}}},
        {"data": {"name": "erpB"}, "mark": {"type": "line", "strokeWidth": 2.2},
          "encoding": {"color": {"field": "s", "type": "nominal", "scale": {"domain": ["1.6Hz", "1.1Hz", "0.5Hz"], "range": ["#ababab", "#585858", "#1c1c1c"]}, "legend": null}}},
        {"data": {"values": [{"t": 59, "v": 0.95, "label": "P1"}, {"t": 254, "v": 7.15, "label": "P2"}, {"t": 127, "v": -5.45, "label": "N1"}]}, "mark": {"type": "text", "fontSize": 16, "align": "center", "baseline": "middle"}, "encoding": {"text": {"field": "label"}}},
        {"data": {"values": [{"t": -93, "v": 11.05, "label": "[µV]"}]}, "mark": {"type": "text", "fontSize": 15, "fontWeight": "bold", "align": "left", "baseline": "middle"}, "encoding": {"text": {"field": "label"}}},
        {"data": {"values": [{"t": 638, "v": -10.2, "label": "[ms]"}]}, "mark": {"type": "text", "fontSize": 15, "fontWeight": "bold", "align": "right", "baseline": "middle"}, "encoding": {"text": {"field": "label"}}}
      ]
    },
    {
      "width": 273, "height": 352,
      "title": {"text": "c"},
      "encoding": {
        "x": {"field": "t", "type": "quantitative", "scale": {"domain": [-100, 640], "nice": false, "zero": false}, "axis": {"title": null, "values": [-100, 0, 100, 200, 300, 400, 500, 600], "labelPadding": 7}},
        "y": {"field": "v", "type": "quantitative", "scale": {"domain": [-11, 11.5], "nice": false, "zero": false}, "axis": {"title": null, "values": [-10, -5, 0, 5, 10], "labelPadding": 10}}
      },
      "layer": [
        {"data": {"name": "frame"}, "mark": {"type": "rule", "color": "#111", "strokeWidth": 2, "strokeDash": [4, 1]}, "encoding": {"y2": {"datum": 11.5}}},
        {"data": {"name": "frame"}, "mark": {"type": "rule", "color": "#111", "strokeWidth": 2, "strokeDash": [4, 1]}, "encoding": {"x2": {"datum": 640}}},
        {"data": {"name": "yMajor"}, "mark": {"type": "point", "shape": "M-2,0H0", "size": 64, "strokeWidth": 1.5, "strokeDash": [3, 1], "color": "#111", "opacity": 1}},
        {"data": {"name": "yMinor"}, "mark": {"type": "point", "shape": "M-1,0H0", "size": 64, "strokeWidth": 1.5, "strokeDash": [3, 1], "color": "#111", "opacity": 1}},
        {"data": {"name": "xTicks"}, "mark": {"type": "point", "shape": "M0,-1V1", "size": 64, "strokeWidth": 1.5, "strokeDash": [3, 1], "color": "#111", "opacity": 1}},
        {"data": {"values": [{"t": 0, "v": -11}]}, "mark": {"type": "rule", "color": "#b5b5b5", "strokeWidth": 1, "strokeDash": [1, 1.5]}, "encoding": {"y2": {"datum": 11.5}}},
        {"data": {"values": [{"t": -100, "v": 2}, {"t": -100, "v": -2}]}, "mark": {"type": "rule", "color": "#666", "strokeWidth": 1, "strokeDash": [1, 1.5]}, "encoding": {"x2": {"datum": 600}}},
        {"data": {"name": "tC"}, "mark": {"type": "line", "strokeWidth": 2},
          "encoding": {
            "color": {"field": "s", "type": "nominal", "scale": {"domain": ["0.5Hz-1.1Hz", "0.5Hz-1.6Hz", "1.1Hz-1.6Hz"], "range": ["#3c3c3c", "#ababab", "#ababab"]},
              "legend": {"orient": "none", "legendX": 165, "legendY": -3, "title": null, "labelFontSize": 13, "labelFont": "Liberation Sans", "labelColor": "#222", "symbolType": "stroke", "symbolSize": 170, "symbolStrokeWidth": 2, "rowPadding": 0, "labelOffset": 5, "padding": 0}},
            "strokeDash": {"field": "s", "type": "nominal", "scale": {"domain": ["0.5Hz-1.1Hz", "0.5Hz-1.6Hz", "1.1Hz-1.6Hz"], "range": [[2, 2], [2, 2], [6, 2, 2, 2]]}}
          }},
        {"data": {"values": [{"t": -93, "v": 11.1, "label": "[t-value]"}]}, "mark": {"type": "text", "fontSize": 15, "fontWeight": "bold", "align": "left", "baseline": "middle"}, "encoding": {"text": {"field": "label"}}},
        {"data": {"values": [{"t": 638, "v": -10.2, "label": "[ms]"}]}, "mark": {"type": "text", "fontSize": 15, "fontWeight": "bold", "align": "right", "baseline": "middle"}, "encoding": {"text": {"field": "label"}}}
      ]
    },
    {
      "width": 273, "height": 352,
      "title": {"text": "d"},
      "encoding": {
        "x": {"field": "t", "type": "quantitative", "scale": {"domain": [-100, 640], "nice": false, "zero": false}, "axis": {"title": null, "values": [-100, 0, 100, 200, 300, 400, 500, 600], "labelPadding": 7}},
        "y": {"field": "v", "type": "quantitative", "scale": {"domain": [-11, 11.5], "nice": false, "zero": false}, "axis": {"title": null, "values": [-10, -5, 0, 5, 10], "labelPadding": 10}}
      },
      "layer": [
        {"data": {"name": "frame"}, "mark": {"type": "rule", "color": "#111", "strokeWidth": 2, "strokeDash": [4, 1]}, "encoding": {"y2": {"datum": 11.5}}},
        {"data": {"name": "frame"}, "mark": {"type": "rule", "color": "#111", "strokeWidth": 2, "strokeDash": [4, 1]}, "encoding": {"x2": {"datum": 640}}},
        {"data": {"name": "yMajor"}, "mark": {"type": "point", "shape": "M-2,0H0", "size": 64, "strokeWidth": 1.5, "strokeDash": [3, 1], "color": "#111", "opacity": 1}},
        {"data": {"name": "yMinor"}, "mark": {"type": "point", "shape": "M-1,0H0", "size": 64, "strokeWidth": 1.5, "strokeDash": [3, 1], "color": "#111", "opacity": 1}},
        {"data": {"name": "xTicks"}, "mark": {"type": "point", "shape": "M0,-1V1", "size": 64, "strokeWidth": 1.5, "strokeDash": [3, 1], "color": "#111", "opacity": 1}},
        {"data": {"values": [{"t": 0, "v": -11}]}, "mark": {"type": "rule", "color": "#b5b5b5", "strokeWidth": 1, "strokeDash": [1, 1.5]}, "encoding": {"y2": {"datum": 11.5}}},
        {"data": {"values": [{"t": -100, "v": 2}, {"t": -100, "v": -2}]}, "mark": {"type": "rule", "color": "#666", "strokeWidth": 1, "strokeDash": [1, 1.5]}, "encoding": {"x2": {"datum": 600}}},
        {"data": {"name": "tD"}, "mark": {"type": "line", "strokeWidth": 2},
          "encoding": {
            "color": {"field": "s", "type": "nominal", "scale": {"domain": ["0.5Hz-1.1Hz", "0.5Hz-1.6Hz", "1.1Hz-1.6Hz"], "range": ["#3c3c3c", "#ababab", "#ababab"]},
              "legend": {"orient": "none", "legendX": 165, "legendY": -3, "title": null, "labelFontSize": 13, "labelFont": "Liberation Sans", "labelColor": "#222", "symbolType": "stroke", "symbolSize": 170, "symbolStrokeWidth": 2, "rowPadding": 0, "labelOffset": 5, "padding": 0}},
            "strokeDash": {"field": "s", "type": "nominal", "scale": {"domain": ["0.5Hz-1.1Hz", "0.5Hz-1.6Hz", "1.1Hz-1.6Hz"], "range": [[2, 2], [2, 2], [6, 2, 2, 2]]}}
          }},
        {"data": {"values": [{"t": -93, "v": 11.1, "label": "[t-value]"}]}, "mark": {"type": "text", "fontSize": 15, "fontWeight": "bold", "align": "left", "baseline": "middle"}, "encoding": {"text": {"field": "label"}}},
        {"data": {"values": [{"t": 638, "v": -10.2, "label": "[ms]"}]}, "mark": {"type": "text", "fontSize": 15, "fontWeight": "bold", "align": "right", "baseline": "middle"}, "encoding": {"text": {"field": "label"}}}
      ]
    }
  ]
}
